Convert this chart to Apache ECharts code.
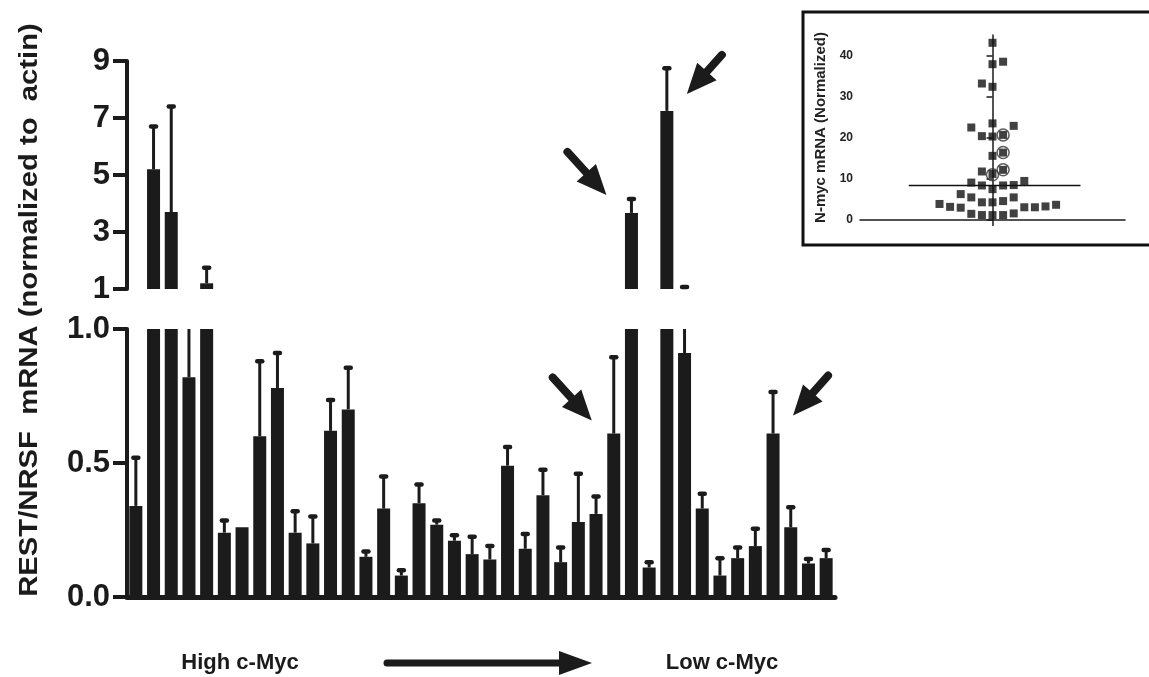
<!DOCTYPE html>
<html><head><meta charset="utf-8">
<script src="https://cdn.jsdelivr.net/npm/echarts@6/dist/echarts.min.js"></script>
<style>html,body{margin:0;padding:0;background:#fff}#c{width:1149px;height:677px}</style>
</head><body><div id="c"></div>
<script>
// ---------- data ----------
const samples = Array.from({length: 40}, (_, i) => 'S' + (i + 1));
const restValues = [0.34, 5.2, 3.7, 0.82, 1.2, 0.24, 0.26, 0.60, 0.78, 0.24,
  0.20, 0.62, 0.70, 0.15, 0.33, 0.08, 0.35, 0.27, 0.21, 0.16,
  0.14, 0.49, 0.18, 0.38, 0.13, 0.28, 0.31, 0.61, 3.67, 0.11,
  7.25, 0.91, 0.33, 0.08, 0.145, 0.19, 0.61, 0.26, 0.125, 0.145];
const restErrTops = [0.52, 6.7, 7.4, 1.0, 1.75, 0.285, 0.26, 0.88, 0.91, 0.32,
  0.30, 0.735, 0.855, 0.17, 0.45, 0.10, 0.42, 0.285, 0.23, 0.225,
  0.19, 0.56, 0.235, 0.475, 0.185, 0.46, 0.375, 0.895, 4.16, 0.13,
  8.75, 1.07, 0.385, 0.145, 0.185, 0.255, 0.765, 0.335, 0.142, 0.175];
const upperTicks = [1, 3, 5, 7, 9];
const lowerTicks = [0, 0.5, 1.0];
// arrows: bar index and value they point at
const arrowBars = [28, 30, 27, 36];
const arrowValues = [3.67, 7.25, 0.61, 0.61];
const arrowPanels = [0, 0, 1, 1];
// inset: N-myc scatter (x = jitter slot, y = value)
const nmycX = [0, 0, 1, -1, 0, -2, 0, 2, -1, 0, 1, 0, 1, -1, 0, 1, -2, -1, 0, 1,
  2, 3, -3, -2, -1, 0, 1, 2, -5, -4, -3, 3, 4, 5, 6, -2, -1, 0, 1, 2];
const nmycY = [43.1, 37.9, 38.5, 33.2, 32.4, 22.5, 23.5, 22.9, 20.4, 20.3, 20.7, 15.6, 16.4, 11.8, 11.2, 12.2,
  9.1, 8.4, 7.5, 8.4, 8.5, 9.5, 6.3, 5.5, 4.3, 4.3, 4.6, 5.5, 3.9, 3.2, 3.0, 3.1, 3.1, 3.3, 3.7,
  1.5, 1.2, 1.2, 1.2, 1.6];
const circledX = [1, 1, 1, 0];
const circledY = [20.7, 16.4, 12.2, 11.0];
const nmycMedian = 8.4;
const medianSpan = [-7.9, 8.3];
const insetTicks = [0, 10, 20, 30, 40];

// ---------- styling ----------
const INK = '#1b1b1b';
const FONT = 'Liberation Sans, Arial, sans-serif';
const chart = echarts.init(document.getElementById('c'), null, {renderer: 'canvas'});

function errRender(lo, hi) {
  return function (params, api) {
    const i = api.value(0), v = api.value(1), e = api.value(2);
    const from = Math.max(v, lo), to = Math.min(e, hi);
    if (!(to > from)) return null;
    const p0 = api.coord([i, from]), p1 = api.coord([i, to]);
    const ch = [{type: 'line', shape: {x1: p0[0], y1: p0[1], x2: p1[0], y2: p1[1]},
      style: {stroke: INK, lineWidth: 3}}];
    if (e < hi) ch.push({type: 'line', shape: {x1: p1[0] - 2.5, y1: p1[1], x2: p1[0] + 2.5, y2: p1[1]},
      style: {stroke: INK, lineWidth: 4.5, lineCap: 'round'}});
    return {type: 'group', children: ch};
  };
}
const errData = restValues.map((v, i) => [i, v, restErrTops[i]]);

function valAxis(grid, min, max, ticks, fmt) {
  return {
    type: 'value', gridIndex: grid, min: min, max: max,
    axisLine: {show: true, lineStyle: {color: INK, width: 4}},
    axisTick: {show: true, length: 14, lineStyle: {color: INK, width: 4}, customValues: ticks},
    axisLabel: {show: true, customValues: ticks, formatter: fmt, margin: 17,
      fontFamily: FONT, fontWeight: 'bold', fontSize: 31, color: INK},
    splitLine: {show: false}
  };
}

const option = {
  animation: false,
  backgroundColor: '#fff',
  grid: [
    {left: 127, top: 61, width: 708, height: 228},
    {left: 127, top: 329, width: 708, height: 268},
    {left: 860, top: 35, width: 265, height: 185}
  ],
  xAxis: [
    {type: 'category', gridIndex: 0, data: samples, show: false},
    {type: 'category', gridIndex: 1, data: samples,
      axisLine: {show: true, lineStyle: {color: INK, width: 5}},
      axisTick: {show: false}, axisLabel: {show: false}},
    {type: 'value', gridIndex: 2, min: -12.5, max: 12.5,
      axisLine: {show: true, onZero: false, lineStyle: {color: INK, width: 1.5}},
      axisTick: {show: true, customValues: [0], length: 6, lineStyle: {color: INK, width: 1.5}},
      axisLabel: {show: false}, splitLine: {show: false}}
  ],
  yAxis: [
    valAxis(0, 1, 9, upperTicks, v => String(v)),
    valAxis(1, 0, 1, lowerTicks, v => v.toFixed(1)),
    {type: 'value', gridIndex: 2, min: 0, max: 45,
      name: 'N-myc mRNA (Normalized)', nameLocation: 'middle', nameGap: 32, nameRotate: 90,
      nameTextStyle: {fontFamily: FONT, fontWeight: 'bold', fontSize: 15, color: '#222'},
      axisLine: {show: true, lineStyle: {color: INK, width: 1.5}},
      axisTick: {show: true, length: 6, customValues: insetTicks, lineStyle: {color: INK, width: 1.5}},
      axisLabel: {customValues: insetTicks, margin: 7, fontFamily: FONT, fontWeight: 'bold', fontSize: 12, color: '#222'},
      splitLine: {show: false}}
  ],
  series: [
    {type: 'bar', xAxisIndex: 0, yAxisIndex: 0, data: restValues, barWidth: 13,
      itemStyle: {color: INK}, clip: true},
    {type: 'bar', xAxisIndex: 1, yAxisIndex: 1, data: restValues, barWidth: 13,
      itemStyle: {color: INK}, clip: true},
    {type: 'custom', xAxisIndex: 0, yAxisIndex: 0, data: errData, renderItem: errRender(1, 9),
      encode: {x: 0, y: [1, 2]}, z: 3},
    {type: 'custom', xAxisIndex: 1, yAxisIndex: 1, data: errData, renderItem: errRender(0, 1),
      encode: {x: 0, y: [1, 2]}, z: 3},
    {type: 'scatter', xAxisIndex: 2, yAxisIndex: 2, symbol: 'rect', symbolSize: 8,
      data: nmycX.map((x, i) => [x, nmycY[i]]), itemStyle: {color: '#111'}},
    {type: 'scatter', xAxisIndex: 2, yAxisIndex: 2, symbol: 'circle', symbolSize: 12,
      data: circledX.map((x, i) => [x, circledY[i]]),
      itemStyle: {color: 'rgba(0,0,0,0)', borderColor: '#333', borderWidth: 1.5}, z: 4},
    {type: 'line', xAxisIndex: 2, yAxisIndex: 2, symbol: 'none',
      data: medianSpan.map(x => [x, nmycMedian]), lineStyle: {color: '#111', width: 1.5}}
  ]
};
chart.setOption(option);

// ---------- annotations anchored to data ----------
const tipOffsets = [[-25, -18], [20, -17], [-22, -13], [20, -18]];
const tailVecs = [[-39, -43], [35, -39], [-39, -43], [35, -40]];
function arrow(tx, ty, vx, vy, headLen, halfW, shaftW) {
  const L = Math.hypot(vx, vy), ux = vx / L, uy = vy / L, px = -uy, py = ux;
  const bx = tx + ux * headLen, by = ty + uy * headLen;
  return [
    {type: 'line', shape: {x1: bx, y1: by, x2: tx + vx, y2: ty + vy},
      style: {stroke: INK, lineWidth: shaftW, lineCap: 'round'}},
    {type: 'polygon', shape: {points: [[tx, ty], [bx + px * halfW, by + py * halfW], [bx - px * halfW, by - py * halfW]]},
      style: {fill: INK}}
  ];
}
const g = [];
arrowBars.forEach((b, k) => {
  const p = chart.convertToPixel({xAxisIndex: arrowPanels[k], yAxisIndex: arrowPanels[k]}, [b, arrowValues[k]]);
  g.push(...arrow(p[0] + tipOffsets[k][0], p[1] + tipOffsets[k][1], tailVecs[k][0], tailVecs[k][1], 30, 13, 8));
});
// bottom direction arrow + labels
g.push(...arrow(592, 663, -205, 0, 33, 12, 7));
g.push({type: 'text', x: 240, y: 663, style: {text: 'High c-Myc', fill: INK, font: 'bold 22px ' + FONT, align: 'center', verticalAlign: 'middle'}});
g.push({type: 'text', x: 722, y: 663, style: {text: 'Low c-Myc', fill: INK, font: 'bold 22px ' + FONT, align: 'center', verticalAlign: 'middle'}});
g.push({type: 'text', x: 30, y: 310, rotation: Math.PI / 2, scaleX: 1.125,
  style: {text: 'REST/NRSF  mRNA (normalized to  actin)', fill: INK, font: 'bold 26px ' + FONT, align: 'center', verticalAlign: 'middle'}});
// inset frame
g.push({type: 'rect', shape: {x: 803, y: 12, width: 420, height: 233}, style: {fill: 'none', stroke: '#111', lineWidth: 3}, z: -1});
chart.setOption({graphic: g});
</script></body></html>
